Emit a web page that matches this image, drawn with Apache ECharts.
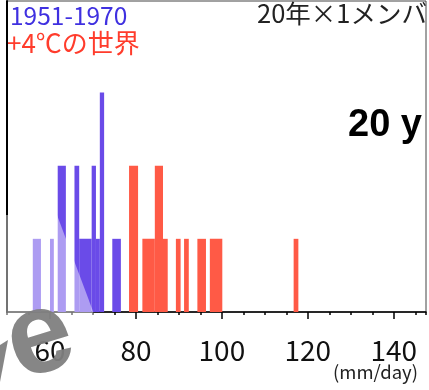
<!DOCTYPE html>
<html><head><meta charset="utf-8">
<script src="https://cdn.jsdelivr.net/npm/echarts@6/dist/echarts.min.js"></script>
<style>html,body{margin:0;padding:0;background:#fff}#c{width:429px;height:390px}</style>
</head><body><div id="c"></div>
<script>
// Histogram segments (bin start, bin end in mm/day, count of years)
var blueStart = [56.0, 60.0, 61.8, 65.7, 66.8, 69.7, 70.7, 71.6, 74.5];
var blueEnd   = [57.9, 60.9, 63.7, 66.8, 69.7, 70.7, 71.6, 72.6, 76.5];
var blueCount = [1, 1, 2, 2, 1, 2, 1, 3, 1];
var redStart = [78.4, 81.5, 84.4, 86.3, 89.3, 91.2, 94.3, 97.2, 116.7];
var redEnd   = [80.5, 84.4, 86.3, 87.4, 90.4, 92.3, 96.3, 100.1, 117.8];
var redCount = [2, 1, 2, 1, 1, 1, 1, 1, 1];
var tickLabels = [60, 80, 100, 120, 140];
var legendBlue = '1951-1970';
var legendRed = '+4℃の世界';
var noteText = '20年×1メンバ';
var bigText = '20 y';
var unitText = '(mm/day)';

function seg(s, e, c) { return s.map(function (v, i) { return [v, e[i], c[i]]; }); }
function renderBar(color) {
  return function (params, api) {
    var p0 = api.coord([api.value(0), 0]);
    var p1 = api.coord([api.value(1), api.value(2)]);
    return { type: 'rect', shape: { x: p0[0], y: p1[1], width: p1[0] - p0[0], height: p0[1] - p1[1] },
      style: { fill: color } };
  };
}
var font = '"Noto Sans CJK JP", "Noto Sans", sans-serif';
var chart = echarts.init(document.getElementById('c'), null, { renderer: 'canvas' });
chart.setOption({
  animation: false,
  grid: { left: 7, right: 3, top: 1, bottom: 78, show: true, borderColor: '#444', borderWidth: 1 },
  xAxis: [
    { type: 'value', min: 50, max: 147.5, interval: 5, position: 'bottom',
      axisLine: { show: true, lineStyle: { color: '#000', width: 1.5 } },
      axisTick: { show: true, length: 3, lineStyle: { color: '#000', width: 1.5 } },
      axisLabel: { show: false }, splitLine: { show: false } },
    { type: 'value', min: 50, max: 147.5, interval: 5, position: 'bottom',
      axisLine: { show: false },
      axisTick: { show: true, length: 7, customValues: tickLabels, lineStyle: { color: '#000', width: 1.5 } },
      axisLabel: { show: true, customValues: tickLabels, fontSize: 28, color: '#111', margin: 24, fontFamily: font },
      splitLine: { show: false } }
  ],
  yAxis: { type: 'value', min: 0, max: 4.25, axisLine: { show: true, lineStyle: { color: '#000', width: 2 } },
    axisTick: { show: false }, axisLabel: { show: false }, splitLine: { show: false } },
  series: [
    { type: 'custom', renderItem: renderBar('#6a4be8'), data: seg(blueStart, blueEnd, blueCount),
      encode: { x: [0, 1], y: 2 } },
    { type: 'custom', renderItem: renderBar('#ff5a46'), data: seg(redStart, redEnd, redCount),
      encode: { x: [0, 1], y: 2 } }
  ],
  graphic: [
    { type: 'text', left: 10, top: 3, z: 50, style: { text: legendBlue, fontSize: 24.5, fill: '#3f30e0', fontFamily: font } },
    { type: 'text', left: 7, top: 30, z: 50, style: { text: legendRed, fontSize: 26, fill: '#ff3c2c', fontFamily: font } },
    { type: 'text', right: 2, top: 1, z: 50, style: { text: noteText, fontSize: 25.5, fill: '#222', fontFamily: font } },
    { type: 'text', left: 348, top: 107, z: 60, style: { text: bigText, fontSize: 38, fontWeight: 'bold', fill: '#000', fontFamily: '"Liberation Sans", Arial, sans-serif' } },
    { type: 'text', right: 11, top: 363, z: 50, style: { text: unitText, fontSize: 18.5, fill: '#222', fontFamily: font } },
    { type: 'polygon', z: 70, shape: { points: [[5, 215], [57, 215], [100, 330], [5, 330]] },
      style: { fill: 'rgba(255,255,255,0.45)' } },
    { type: 'polygon', z: 80, shape: { points: [[0, 345], [8, 340], [0, 382]] },
      style: { fill: 'rgba(128,128,128,0.95)' } },
    { type: 'text', x: 40, y: 340, z: 80, rotation: 0.3, originX: 0, originY: 0,
      style: { text: 'e', fontSize: 116, fontWeight: 'bold', fill: 'rgba(128,128,128,0.95)',
        fontFamily: '"Liberation Sans", Arial, sans-serif', textVerticalAlign: 'middle', textAlign: 'center' } }
  ]
});
</script></body></html>
